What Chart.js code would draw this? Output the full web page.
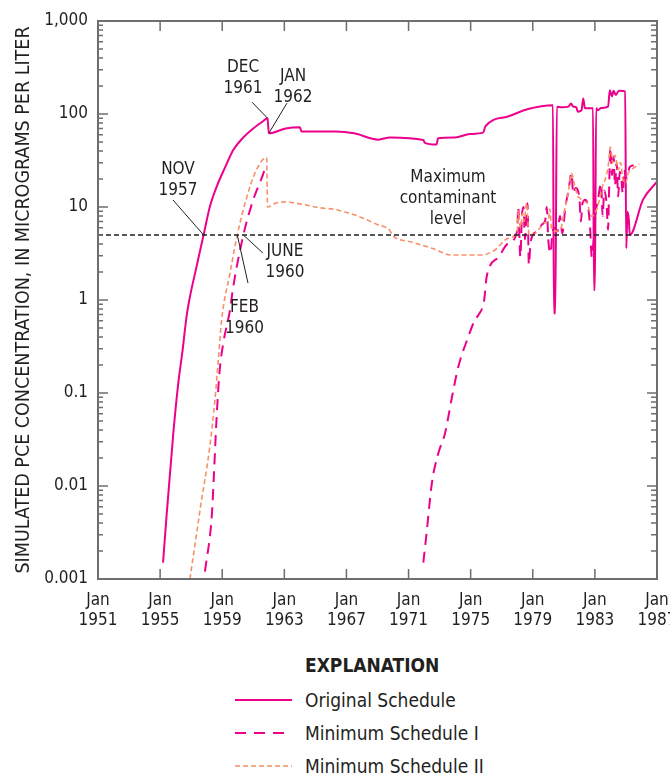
<!DOCTYPE html>
<html>
<head>
<meta charset="utf-8">
<script src="https://cdn.jsdelivr.net/npm/chart.js@4.4.1/dist/chart.umd.min.js"></script>
<style>
  html, body { margin: 0; padding: 0; background: #fff; }
  body { width: 670px; height: 774px; position: relative; overflow: hidden;
         font-family: 'DejaVu Sans Condensed', 'Liberation Sans Narrow', sans-serif; color: #231f20; }
  #wrap { position: absolute; left: 0; top: 0; width: 670px; height: 640px; }
  #legend { position: absolute; left: 0; top: 640px; width: 670px; height: 134px; }
  #legend .ttl { position: absolute; left: 305px; font-weight: bold; font-size: 19px; }
  #legend .row { position: absolute; left: 234px; height: 22px; font-size: 19px; line-height: 22px; }
  #legend .row svg { position: absolute; left: 0; top: 1px; }
  #legend .row span { position: absolute; left: 71px; top: 0; white-space: nowrap; }
</style>
</head>
<body>
<div id="wrap"><canvas id="chart" width="670" height="640"></canvas></div>
<div id="legend"></div>
<script>
var FONT = "'DejaVu Sans Condensed', 'Liberation Sans Narrow', sans-serif";
var MAGENTA = '#ec008c';
var SALMON = '#f7906a';

// x ticks (years, labelled "Jan YYYY")
var xTickYears = [1951, 1955, 1959, 1963, 1967, 1971, 1975, 1979, 1983, 1987];
var yTickValues = [0.001, 0.01, 0.1, 1, 10, 100, 1000];
var yTickLabels = ['0.001', '0.01', '0.1', '1', '10', '100', '1,000'];
var mclValue = 5;

// Original Schedule
var origYears = [1955.19, 1955.42, 1955.85, 1956.17, 1956.45, 1956.7, 1956.88, 1957.35, 1957.8, 1958.2,
  1958.64, 1959.2, 1959.71, 1960.36, 1961.0, 1961.6, 1961.92, 1962.0, 1963.1, 1964.0,
  1964.1, 1966.3, 1967.5, 1969.05, 1969.8, 1971.95, 1972.05, 1972.8, 1972.9, 1974.0,
  1974.95, 1975.8, 1975.96, 1977.4, 1978.7, 1980.3, 1980.36, 1980.45, 1980.55, 1980.85,
  1981.3, 1981.46, 1981.6, 1981.8, 1981.9, 1982.14, 1982.25, 1982.36, 1982.88, 1982.94,
  1983.0, 1983.08, 1983.2, 1983.4, 1983.85, 1983.96, 1984.1, 1984.2, 1984.35, 1984.5,
  1984.6, 1984.95, 1985.02, 1985.1, 1985.18, 1985.25, 1986.1, 1987.0];
var origValues = [0.0015, 0.0049, 0.037, 0.128, 0.29, 0.66, 1.0, 2.3, 5.0, 10,
  16.5, 27, 41, 56, 70, 83, 90, 62, 70, 72,
  65, 65, 62, 53, 56, 52.5, 49, 47, 55, 56,
  61, 63, 74, 94, 113, 124, 0.72, 0.72, 120, 118,
  120, 130, 120, 118, 106, 110, 147, 115, 115, 1.28,
  1.28, 115, 110, 116, 120, 180, 155, 178, 160, 175,
  178, 175, 3.6, 8.9, 7.5, 5.0, 12, 18.7];

// Minimum Schedule I (null = below plotted range)
var min1Years = [1957.89, 1958.34, 1958.47, 1958.63, 1958.82, 1959.05, 1959.5, 1959.71, 1960.36, 1961.0,
  1961.65, 1961.8, 1961.85,
  1971.95, 1972.16, 1972.5, 1972.9, 1973.35, 1973.8, 1974.2, 1974.84, 1975.27, 1975.5, 1975.87,
  1976.03, 1976.8, 1977.42, 1978.0, 1978.06, 1978.2, 1978.3, 1978.4, 1978.5, 1978.6,
  1978.66, 1978.75, 1978.85, 1979.0, 1979.3, 1979.6, 1979.8, 1979.9, 1980.0, 1980.15,
  1980.25, 1980.4, 1980.6, 1980.75, 1980.9, 1981.1, 1981.3, 1981.5, 1981.6, 1981.75,
  1982.0, 1982.1, 1982.2, 1982.4, 1982.6, 1982.7, 1982.8, 1982.9, 1983.05, 1983.2,
  1983.4, 1983.5, 1983.6, 1983.75, 1983.85, 1983.9, 1984.0, 1984.1, 1984.2, 1984.3,
  1984.4, 1984.5, 1984.6, 1984.7, 1984.8, 1984.9, 1985.0, 1985.25, 1985.5];
var min1Values = [0.0012, 0.0051, 0.0138, 0.051, 0.164, 0.33, 0.78, 1.39, 5.0, 12,
  23, 28, null,
  0.0015, 0.0031, 0.0107, 0.022, 0.037, 0.091, 0.19, 0.40, 0.61, 0.69, 1.0,
  1.78, 2.9, 4.07, 5.6, 10, 2.9, 8, 10, 4.5, 9,
  11, 2.4, 4, 5, 5.5, 6.5, 7.2, 10, 4.4, 3.2,
  5, 6, 5.5, 8, 5.2, 10, 15, 23, 14, 16,
  12.6, 7, 11, 12, 9, 5.7, 2.9, 4, 8.6, 12,
  18, 8, 15, 11, 5.7, 12, 43, 22, 35, 17,
  30, 13, 24, 20, 14, 25, 20, 27, 28];

// Minimum Schedule II
var min2Years = [1956.92, 1957.3, 1957.57, 1958.2, 1958.53, 1958.75, 1958.96, 1959.5, 1959.97, 1960.57,
  1961.2, 1961.86, 1961.92, 1962.5, 1963.1, 1964.0, 1965.3, 1966.26, 1967.55, 1969.05,
  1969.8, 1969.95, 1971.2, 1972.5, 1973.77, 1975.7, 1976.56, 1977.4, 1978.0, 1978.06,
  1978.2, 1978.35, 1978.45, 1978.6, 1978.75, 1979.0, 1979.4, 1979.8, 1980.0, 1980.1,
  1980.2, 1980.5, 1980.8, 1981.0, 1981.3, 1981.5, 1981.7, 1981.9, 1982.0, 1982.3,
  1982.5, 1982.8, 1983.0, 1983.3, 1983.5, 1983.65, 1983.85, 1984.0, 1984.15, 1984.3,
  1984.5, 1984.65, 1984.8, 1985.0, 1985.1, 1985.35, 1985.6, 1985.85];
var min2Values = [0.001, 0.0027, 0.0055, 0.0265, 0.084, 0.23, 0.61, 1.94, 5.0, 12.6,
  25, 34, 10, 11.1, 11.3, 10.8, 9.8, 9.4, 8.2, 6.4,
  5.6, 5.0, 4.2, 3.6, 3.05, 3.05, 3.45, 4.6, 5.6, 9,
  6, 8.5, 7, 11, 5.2, 5, 5.8, 6.8, 7.2, 9.5,
  6, 5.5, 5.8, 8.5, 15, 23, 17, 13, 12.6, 11.5,
  11, 7.9, 8.5, 12, 17, 19.5, 27, 44, 30, 36,
  25, 30, 20, 18, 22, 25, 27, 29];

function pts(xs, ys) {
  return xs.map(function (x, i) { return { x: x, y: ys[i] }; });
}

// callout text in data coordinates; leader line from (lx, ly) to (px, py)
var callouts = [
  { lines: ['NOV', '1957'], x: 1956.15, y: 25, lx: 1955.83, ly: 11.9, px: 1957.8, py: 5 },
  { lines: ['DEC', '1961'], x: 1960.34, y: 312, lx: 1960.92, ly: 134, px: 1961.92, py: 90 },
  { lines: ['JAN', '1962'], x: 1963.56, y: 250, lx: 1963.17, ly: 131, px: 1962.0, py: 62 },
  { lines: ['JUNE', '1960'], x: 1963.04, y: 3.28, lx: 1961.62, ly: 3.2, px: 1960.36, py: 5 },
  { lines: ['FEB', '1960'], x: 1960.43, y: 0.83, lx: 1960.66, ly: 1.52, px: 1959.97, py: 5 },
  { lines: ['Maximum', 'contaminant', 'level'], x: 1973.54, y: 20.5 }
];

var frameAndTicks = {
  id: 'frameAndTicks',
  afterDatasetsDraw: function (chart) {
    var ctx = chart.ctx, a = chart.chartArea;
    var xs = chart.scales.x, ys = chart.scales.y;
    ctx.save();
    ctx.strokeStyle = '#6d6e71';
    ctx.lineWidth = 1.5;
    // y ticks, major and minor, on both sides
    yTickValues.forEach(function (v, i) {
      var yy = ys.getPixelForValue(v);
      ctx.beginPath();
      ctx.moveTo(a.left, yy); ctx.lineTo(a.left + 10, yy);
      ctx.moveTo(a.right, yy); ctx.lineTo(a.right - 10, yy);
      ctx.stroke();
      if (i < yTickValues.length - 1) {
        for (var m = 2; m <= 9; m++) {
          var ym = ys.getPixelForValue(v * m);
          ctx.beginPath();
          ctx.moveTo(a.left, ym); ctx.lineTo(a.left + 5, ym);
          ctx.moveTo(a.right, ym); ctx.lineTo(a.right - 6, ym);
          ctx.stroke();
        }
      }
    });
    xTickYears.forEach(function (yr) {
      var xx = xs.getPixelForValue(yr);
      ctx.beginPath();
      ctx.moveTo(xx, a.bottom); ctx.lineTo(xx, a.bottom - 10);
      ctx.moveTo(xx, a.top); ctx.lineTo(xx, a.top + 10);
      ctx.stroke();
    });
    ctx.lineWidth = 2;
    ctx.strokeRect(a.left, a.top, a.right - a.left, a.bottom - a.top);

    // callouts
    ctx.fillStyle = '#231f20';
    ctx.strokeStyle = '#231f20';
    ctx.lineWidth = 1;
    ctx.font = '17px ' + FONT;
    ctx.textAlign = 'center';
    ctx.textBaseline = 'middle';
    callouts.forEach(function (c) {
      var cx = xs.getPixelForValue(c.x), cy = ys.getPixelForValue(c.y);
      c.lines.forEach(function (t, k) { ctx.fillText(t, cx, cy + k * 21); });
      if (c.lx !== undefined) {
        ctx.beginPath();
        ctx.moveTo(xs.getPixelForValue(c.lx), ys.getPixelForValue(c.ly));
        ctx.lineTo(xs.getPixelForValue(c.px), ys.getPixelForValue(c.py));
        ctx.stroke();
      }
    });
    ctx.restore();
  }
};

new Chart(document.getElementById('chart'), {
  type: 'line',
  data: {
    datasets: [
      { label: 'Maximum contaminant level', data: pts([1951, 1987], [mclValue, mclValue]),
        borderColor: '#231f20', borderWidth: 1.3, borderDash: [5, 3] },
      { label: 'Minimum Schedule II', data: pts(min2Years, min2Values),
        borderColor: SALMON, borderWidth: 1.6, borderDash: [5, 3], cubicInterpolationMode: 'monotone' },
      { label: 'Minimum Schedule I', data: pts(min1Years, min1Values),
        borderColor: MAGENTA, borderWidth: 2, borderDash: [11, 7], cubicInterpolationMode: 'monotone' },
      { label: 'Original Schedule', data: pts(origYears, origValues),
        borderColor: MAGENTA, borderWidth: 2, cubicInterpolationMode: 'monotone' }
    ]
  },
  options: {
    responsive: false,
    animation: false,
    spanGaps: false,
    elements: { point: { radius: 0 }, line: { tension: 0, fill: false } },
    layout: { padding: { top: 21, right: 13, left: 0, bottom: 0 } },
    plugins: { legend: { display: false }, tooltip: { enabled: false } },
    scales: {
      x: {
        type: 'linear', min: 1951, max: 1987,
        afterBuildTicks: function (s) { s.ticks = xTickYears.map(function (v) { return { value: v }; }); },
        afterFit: function (s) { s.height = 61; s.paddingLeft = 0; s.paddingRight = 0; },
        grid: { display: false, drawTicks: false },
        border: { display: false },
        ticks: {
          padding: 11, maxRotation: 0, autoSkip: false, color: '#231f20',
          font: { family: FONT, size: 17, lineHeight: 1.2 },
          callback: function (v) { return ['Jan', String(v)]; }
        }
      },
      y: {
        type: 'logarithmic', min: 0.001, max: 1000,
        afterBuildTicks: function (s) { s.ticks = yTickValues.map(function (v) { return { value: v }; }); },
        afterFit: function (s) { s.width = 98; s.paddingTop = 0; s.paddingBottom = 0; },
        grid: { display: false, drawTicks: false },
        border: { display: false },
        ticks: {
          padding: 10, autoSkip: false, color: '#231f20',
          font: { family: FONT, size: 17 },
          callback: function (v) { var i = yTickValues.indexOf(v); return i >= 0 ? yTickLabels[i] : ''; }
        },
        title: {
          display: true, text: 'SIMULATED PCE CONCENTRATION, IN MICROGRAMS PER LITER',
          color: '#231f20', font: { family: FONT, size: 19.5 }, padding: { top: 12, bottom: 0 }
        }
      }
    }
  },
  plugins: [frameAndTicks]
});

// legend (HTML)
var legendItems = [
  { label: 'Original Schedule', color: MAGENTA, width: 2, dash: '', top: 689 },
  { label: 'Minimum Schedule I', color: MAGENTA, width: 2, dash: '11 8', top: 722 },
  { label: 'Minimum Schedule II', color: SALMON, width: 1.6, dash: '5 3', top: 755 }
];
var lg = document.getElementById('legend');
var html = '<div class="ttl" style="top:14px">EXPLANATION</div>';
legendItems.forEach(function (it) {
  html += '<div class="row" style="top:' + (it.top - 640) + 'px">' +
    '<svg width="60" height="20"><line x1="1" y1="10" x2="58" y2="10" stroke="' + it.color +
    '" stroke-width="' + it.width + '"' + (it.dash ? ' stroke-dasharray="' + it.dash + '"' : '') + '/></svg>' +
    '<span>' + it.label + '</span></div>';
});
lg.innerHTML = html;
</script>
</body>
</html>
